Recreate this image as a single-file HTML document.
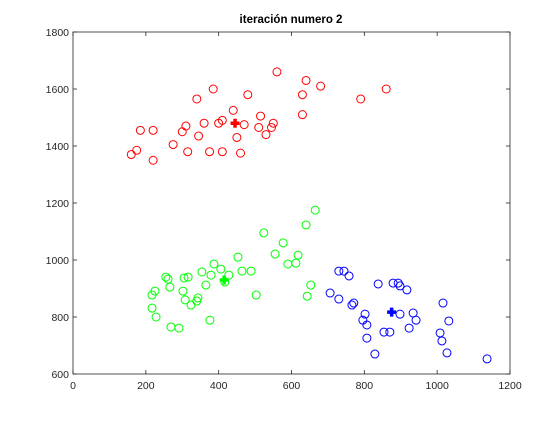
<!DOCTYPE html>
<html><head><meta charset="utf-8"><style>
body{margin:0;background:#fff;}
svg text{font-family:"Liberation Sans",Arial,sans-serif;}
</style></head><body>
<svg id="chart" width="560" height="420" viewBox="0 0 560 420" xmlns="http://www.w3.org/2000/svg">
<rect width="560" height="420" fill="#fff"/>
<text x="291" y="23" text-anchor="middle" font-size="11.5" font-weight="bold" fill="#000">iteración numero 2</text>
<g id="plot"></g>
</svg>
<script>
const xTicks=[0,200,400,600,800,1000,1200];
const yTicks=[600,800,1000,1200,1400,1600,1800];
const redX=[160,175,185,220,220,275,300,310,315,340,345,360,375,385,400,410,440,450,460,470,480,510,515,530,545,550,560,630,630,640,680,790,860,410];
const redY=[1370,1385,1455,1455,1350,1405,1450,1470,1380,1565,1435,1480,1380,1600,1480,1380,1525,1430,1375,1475,1580,1465,1505,1440,1465,1480,1660,1580,1510,1630,1610,1565,1600,1490];
const greenX=[453,555,387,406,428,379,354,464,489,255,261,305,316,266,365,417,225,217,302,308,343,340,324,503,217,228,376,269,291,665,640,524,577,618,590,612,653,643];
const greenY=[1010,1021,986,968,947,947,958,961,961,940,933,937,940,905,912,923,891,877,891,860,867,856,842,877,831,800,789,765,761,1175,1123,1095,1060,1017,986,989,912,873];
const blueX=[730,744,758,706,730,771,766,838,879,893,898,917,1016,802,796,807,807,829,854,870,898,934,942,923,1032,1008,1013,1027,1137];
const blueY=[961,961,944,884,863,849,842,916,919,919,909,895,849,810,789,772,726,670,747,747,810,814,789,761,786,744,716,674,653];
const centX=[445,415,875];
const centY=[1480,930,817];
const colors=['#ff0000','#00ff00','#0000ff'];
const L=73,R=510,T=32,B=374;
const xs=v=>L+(v-0)/1200*(R-L);
const ys=v=>B-(v-600)/1200*(B-T);
const NS='http://www.w3.org/2000/svg';
const g=document.getElementById('plot');
function mk(t,a){const e=document.createElementNS(NS,t);for(const k in a)e.setAttribute(k,a[k]);g.appendChild(e);return e;}
const frame=mk('rect',{x:L,y:T,width:R-L,height:B-T,fill:'none',stroke:'#262626','stroke-width':0.8});


xTicks.forEach(v=>{const x=xs(v);
 mk('line',{x1:x,x2:x,y1:B,y2:B-4,stroke:'#262626','stroke-width':0.8});
 mk('line',{x1:x,x2:x,y1:T,y2:T+4,stroke:'#262626','stroke-width':0.8});
 const t=mk('text',{x:x,y:B+15,'text-anchor':'middle','font-size':'10.5',fill:'#262626'});t.textContent=v;
 
 
});
yTicks.forEach(v=>{const y=ys(v);
 mk('line',{x1:L,x2:L+4,y1:y,y2:y,stroke:'#262626','stroke-width':0.8});
 mk('line',{x1:R,x2:R-4,y1:y,y2:y,stroke:'#262626','stroke-width':0.8});
 const t=mk('text',{x:L-4,y:y+4,'text-anchor':'end','font-size':'10.5',fill:'#262626'});t.textContent=v;
 
 
});
function pts(X,Y,c,name){X.forEach((v,i)=>{const p=mk('circle',{cx:xs(v),cy:ys(Y[i]),r:4,fill:'none',stroke:c,'stroke-width':1});
 
 
});}
pts(redX,redY,colors[0],'cluster-1-point');
pts(greenX,greenY,colors[1],'cluster-2-point');
pts(blueX,blueY,colors[2],'cluster-3-point');
centX.forEach((v,i)=>{const x=xs(v),y=ys(centY[i]);
 const p=mk('path',{d:`M${x-4.5},${y}H${x+4.5}M${x},${y-4.5}V${y+4.5}`,stroke:colors[i],'stroke-width':3.5,fill:'none'});
 
 
});
</script>
</body></html>
